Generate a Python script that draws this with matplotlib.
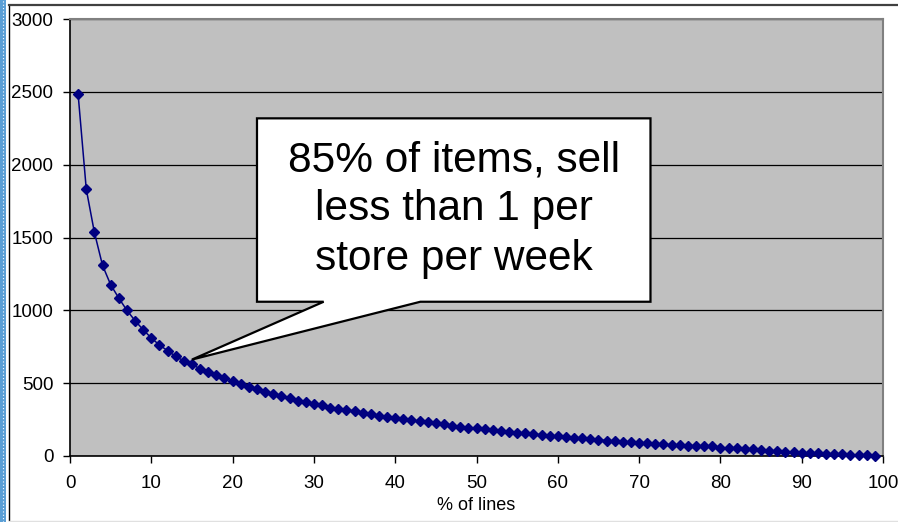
import matplotlib
matplotlib.use("Agg")
import matplotlib.pyplot as plt
from matplotlib.patches import Polygon, Rectangle
from matplotlib.lines import Line2D

plt.rcParams['font.family'] = ['Liberation Sans', 'DejaVu Sans']

# % of lines (ranked items) and weekly sales
pct_lines = list(range(1, 100))
sales = [
    2482, 1832, 1535, 1309, 1176, 1084, 1000, 929, 867, 810,
    762, 723, 684, 653, 631, 597, 574, 558, 535, 513,
    496, 474, 458, 441, 428, 412, 396, 380, 371, 357,
    348, 332, 323, 316, 309, 293, 286, 277, 270, 261,
    254, 245, 238, 231, 224, 218, 208, 201, 194, 190,
    183, 176, 172, 165, 161, 155, 149, 146, 139, 136,
    130, 125, 122, 116, 113, 105, 100, 97, 93, 90,
    88, 84, 79, 77, 73, 71, 71, 69, 66, 58,
    56, 53, 48, 46, 39, 37, 35, 30, 27, 23,
    22, 18, 16, 15, 14, 9, 8, 7, 0,
]
x_ticks = list(range(0, 101, 10))
y_ticks = list(range(0, 3001, 500))
x_label = "% of lines"
callout_text = "85% of items, sell\nless than 1 per\nstore per week"

W, H = 898, 522
fig = plt.figure(figsize=(W / 100, H / 100), dpi=100)
fig.patch.set_facecolor('white')

# plot area in pixel terms
left, right, top, bottom = 70, 883, 19, 456
ax = fig.add_axes([left / W, 1 - bottom / H, (right - left) / W, (bottom - top) / H])
ax.set_facecolor('#C0C0C0')

ax.set_xlim(0, 100)
ax.set_ylim(0, 3000)
ax.set_xticks(x_ticks)
ax.set_yticks(y_ticks)
ax.tick_params(axis='both', direction='out', length=5, width=1, labelsize=13.5, colors='black')
ax.tick_params(axis='x', pad=9)
ax.tick_params(axis='y', pad=7)
ax.set_xlabel(x_label, fontsize=13, labelpad=3)

ax.yaxis.grid(True, color='black', linewidth=0.9)
ax.set_axisbelow(True)

for side in ('left', 'bottom'):
    ax.spines[side].set_color('black')
    ax.spines[side].set_linewidth(1.2)
for side in ('top', 'right'):
    ax.spines[side].set_color('#808080')
    ax.spines[side].set_linewidth(1.5)

ax.plot(pct_lines, sales, color='#000080', linewidth=1.1, marker='D',
        markersize=5.0, markerfacecolor='#000080', markeredgecolor='#000080',
        zorder=3, clip_on=False)

# speech-bubble callout pointing at the 15% mark
bx0, bx1, by0, by1 = 23.0, 71.4, 1059, 2318
tip_x, tip_y = 15.0, 662
base_l, base_r = 31.2, 43.1
bubble = Polygon([(bx0, by1), (bx1, by1), (bx1, by0), (base_r, by0),
                  (tip_x, tip_y), (base_l, by0), (bx0, by0)],
                 closed=True, facecolor='white', edgecolor='black',
                 linewidth=1.6, zorder=5, joinstyle='miter')
ax.add_patch(bubble)
ax.text((bx0 + bx1) / 2, (by0 + by1) / 2 + 5, callout_text, ha='center', va='center',
        fontsize=30.5, linespacing=1.3, zorder=6)

# slide frame: dotted blue strip, left rule, top rule, bottom rule
def fx(px):
    return px / W

def fy(py):
    return 1 - py / H

fig.add_artist(Rectangle((0, 0), fx(5.5), 1, transform=fig.transFigure,
                         facecolor='#5B9FD6', edgecolor='none'))
fig.add_artist(Line2D([fx(3), fx(3)], [0, 1], transform=fig.transFigure,
                      color='white', linewidth=0.8, linestyle=(0, (1, 2))))
fig.add_artist(Line2D([fx(8.5), fx(8.5)], [fy(520), fy(5)], transform=fig.transFigure,
                      color='black', linewidth=1.0))
fig.add_artist(Line2D([fx(8.5), 1], [fy(5), fy(5)], transform=fig.transFigure,
                      color='#404040', linewidth=1.6))
fig.add_artist(Line2D([fx(8.5), 1], [fy(520.5), fy(520.5)], transform=fig.transFigure,
                      color='#E0E0E0', linewidth=1.0))

fig.savefig('out.png', dpi=100)
